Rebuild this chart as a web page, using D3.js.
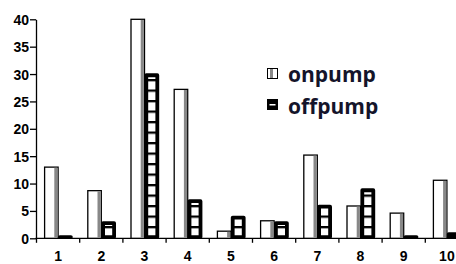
<!DOCTYPE html>
<html>
<head>
<meta charset="utf-8">
<script src="https://cdn.jsdelivr.net/npm/d3@7"></script>
<style>
  body { margin: 0; background: #fff; }
  svg { display: block; }
  .tick text { font-family: "Liberation Sans", Arial, sans-serif; font-weight: bold; font-size: 14px; fill: #000; }
  .legend text { font-family: "Open Sans", sans-serif; font-weight: bold; font-size: 21px; fill: #14142a; }
</style>
</head>
<body>
<svg width="456" height="264"></svg>
<script>
// data
var categories = ["1", "2", "3", "4", "5", "6", "7", "8", "9", "10"];
var onpump  = [13, 8.7, 40, 27.2, 1.3, 3.2, 15.2, 5.9, 4.6, 10.6];
var offpump = [0, 3, 30, 7, 4, 3, 6, 9, 0, 1];
var yTicks = [0, 5, 10, 15, 20, 25, 30, 35, 40];
var seriesNames = ["onpump", "offpump"];

var svg = d3.select("svg");

var x = d3.scaleBand().domain(categories).range([36.5, 468.5]);
var y = d3.scaleLinear().domain([0, 40]).range([238.3, 19.3]);

// pattern for the offpump bars (horizontal ladder lines)
var defs = svg.append("defs");
var pat = defs.append("pattern")
    .attr("id", "ladder")
    .attr("patternUnits", "userSpaceOnUse")
    .attr("width", 20).attr("height", 10.5)
    .attr("y", 236.5);
pat.append("rect").attr("width", 20).attr("height", 10.5).attr("fill", "#fff");
pat.append("rect").attr("y", 0).attr("width", 20).attr("height", 2.3).attr("fill", "#000");

// y axis
var yAxis = svg.append("g")
    .attr("transform", "translate(36,0)")
    .call(d3.axisLeft(y).tickValues(yTicks).tickSize(6).tickPadding(1).tickSizeOuter(0));
yAxis.select(".domain").attr("stroke", "#000").attr("stroke-width", 1.3);
yAxis.selectAll(".tick line").attr("stroke-width", 1.3);
yAxis.selectAll(".tick text").attr("dy", "0.36em");

// x axis: line plus ticks between categories
var xg = svg.append("g").attr("class", "xaxis");
xg.append("line")
    .attr("x1", 35.5).attr("x2", 456)
    .attr("y1", y(0)).attr("y2", y(0))
    .attr("stroke", "#000").attr("stroke-width", 1.3);
var bounds = categories.map(function(d) { return x(d); });
xg.selectAll("line.tk").data(bounds).enter().append("line")
    .attr("class", "tk")
    .attr("x1", function(d) { return d; }).attr("x2", function(d) { return d; })
    .attr("y1", y(0)).attr("y2", y(0) + 4.5)
    .attr("stroke", "#000").attr("stroke-width", 1.3);
xg.selectAll("text").data(categories).enter().append("text")
    .attr("class", "lbl")
    .attr("x", function(d) { return x(d) + x.bandwidth() / 2; })
    .attr("y", 260.5)
    .attr("text-anchor", "middle")
    .style("font-family", "'Liberation Sans', Arial, sans-serif")
    .style("font-weight", "bold")
    .style("font-size", "14px")
    .text(function(d) { return d; });

// onpump bars: white with a grey stripe on the right side
var onW = 13.5;
var gOn = svg.append("g");
categories.forEach(function(c, i) {
  var cx = x(c) + x.bandwidth() / 2;
  var top = y(onpump[i]);
  var h = y(0) - top;
  gOn.append("rect")
      .attr("x", cx - onW).attr("y", top)
      .attr("width", onW).attr("height", h)
      .attr("fill", "#fff").attr("stroke", "#000").attr("stroke-width", 1.3);
  gOn.append("rect")
      .attr("x", cx - 3.8).attr("y", top + 0.6)
      .attr("width", 3.2).attr("height", Math.max(0, h - 1.2))
      .attr("fill", "#888");
});

// offpump bars: thick black outline, ladder fill
var offW = 11;
var gOff = svg.append("g");
categories.forEach(function(c, i) {
  var cx = x(c) + x.bandwidth() / 2;
  var x0 = cx + 1.8;
  var top = y(offpump[i]) + 1.2;
  var bot = y(0) - 1.2;
  if (top > bot) top = bot;
  gOff.append("path")
      .attr("d", "M" + x0 + "," + bot + "V" + top + "H" + (x0 + offW) + "V" + bot + "Z")
      .attr("fill", "url(#ladder)")
      .attr("stroke", "#000").attr("stroke-width", 3.8)
      .attr("stroke-linejoin", "round");
});

// legend
var leg = svg.append("g").attr("class", "legend");
leg.append("rect").attr("x", 267.5).attr("y", 68.5).attr("width", 10).attr("height", 10)
    .attr("fill", "#fff").attr("stroke", "#000").attr("stroke-width", 1);
leg.append("rect").attr("x", 270).attr("y", 69).attr("width", 3).attr("height", 9).attr("fill", "#888");
leg.append("rect").attr("x", 267).attr("y", 99).attr("width", 11).attr("height", 11).attr("fill", "#000");
leg.append("rect").attr("x", 269.5).attr("y", 104).attr("width", 6).attr("height", 1.5).attr("fill", "#fff");
leg.selectAll("text").data(seriesNames).enter().append("text")
    .attr("x", 288)
    .attr("y", function(d, i) { return 81.5 + i * 32; })
    .text(function(d) { return d; });
</script>
</body>
</html>
